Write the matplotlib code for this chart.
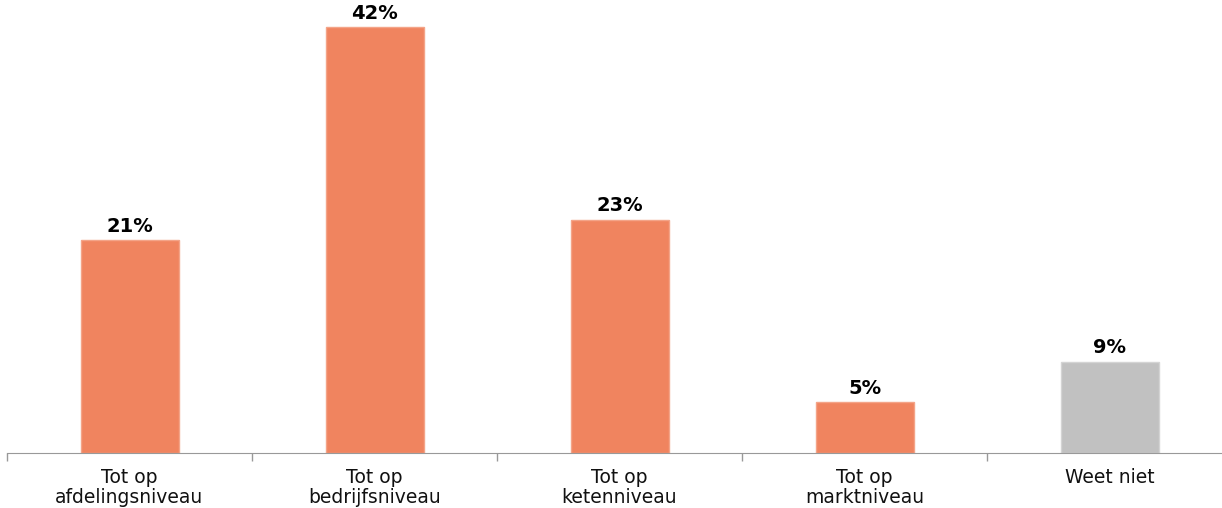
import matplotlib
matplotlib.use("Agg")
import matplotlib.pyplot as plt
import numpy as np

categories = ["Tot op\nafdelingsniveau", "Tot op\nbedrijfsniveau", "Tot op\nketenniveau",
              "Tot op\nmarktniveau", "Weet niet"]
values = [21, 42, 23, 5, 9]
colors = ["#F0845F", "#F0845F", "#F0845F", "#F0845F", "#C1C1C1"]
edge_colors = ["#F4A488", "#F4A488", "#F4A488", "#F4A488", "#D4D4D4"]

fig = plt.figure(figsize=(12.22, 5.08), dpi=100)
ax = fig.add_axes([7 / 1222, 55 / 508, 1225 / 1222, 453 / 508])

x = np.arange(len(categories))
ax.bar(x, values, width=0.4, color=colors, edgecolor=edge_colors, linewidth=1)

for xi, v in zip(x, values):
    ax.annotate(f"{v}%", (xi, v), xytext=(0, 3), textcoords="offset points",
                ha="center", va="bottom", fontsize=14, fontweight="bold", color="black")

ax.set_xlim(-0.5, len(categories) - 0.5)
ax.set_ylim(0, 453 / 10.15)

ax.set_xticks(x)
ax.set_xticklabels(categories, fontsize=13.5, linespacing=1.02, color="#111111")
ax.tick_params(axis="x", which="major", length=0, pad=11)
ax.set_xticks(np.arange(-0.5, len(categories), 1.0), minor=True)
ax.tick_params(axis="x", which="minor", length=6, color="#999999", width=1)
ax.set_yticks([])

for side in ["top", "right", "left"]:
    ax.spines[side].set_visible(False)
ax.spines["bottom"].set_color("#999999")

fig.savefig("out.png", dpi=100)
